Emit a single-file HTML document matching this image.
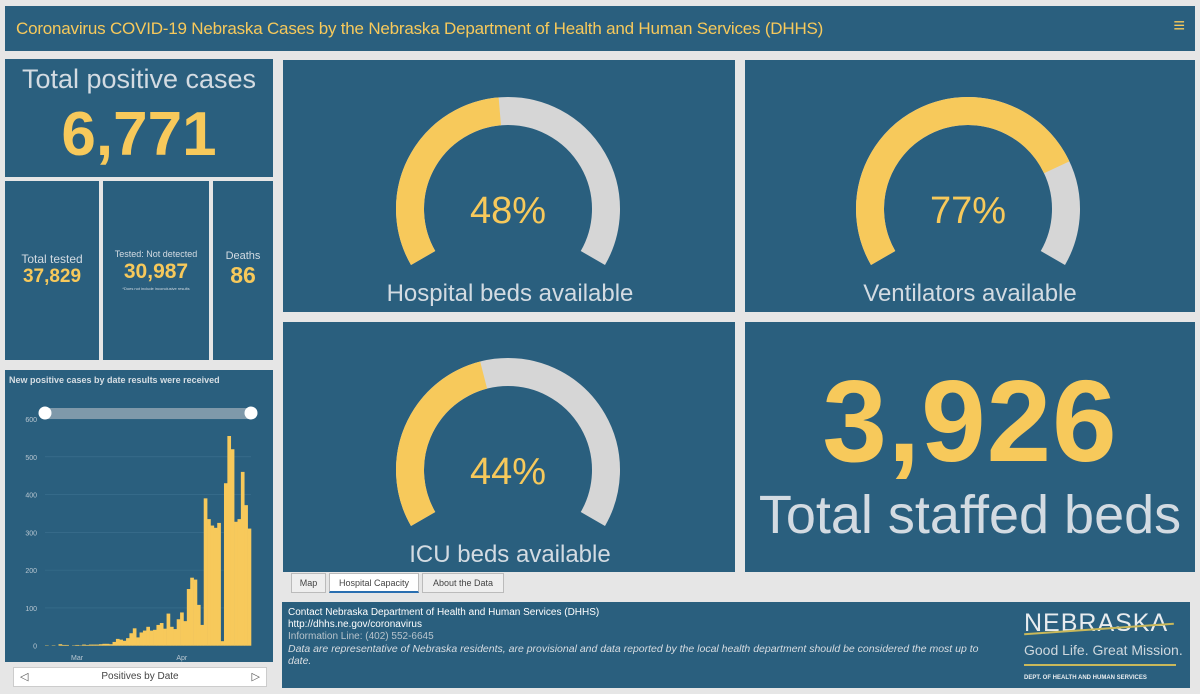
<!DOCTYPE html>
<html><head><meta charset="utf-8">
<style>
*{box-sizing:border-box;margin:0;padding:0}
body{width:1200px;height:694px;background:#e6e6e6;font-family:"Liberation Sans",sans-serif;position:relative;overflow:hidden}
.p{position:absolute;background:#2a5f7e}
.y{color:#f7c95b}
.g{color:#d3dbe2}
.c{text-align:center;position:absolute;left:0;right:0}
</style></head><body>
<div class="p" style="left:5px;top:6px;width:1190px;height:45px">
 <div class="y" style="position:absolute;left:11px;top:13px;font-size:17px;letter-spacing:-0.2px">Coronavirus COVID-19 Nebraska Cases by the Nebraska Department of Health and Human Services (DHHS)</div>
 <div class="y" style="position:absolute;right:10px;top:9px;font-size:20px">≡</div>
</div>

<div class="p" style="left:5px;top:59px;width:268px;height:118px">
 <div class="c g" style="top:5px;font-size:27px">Total positive cases</div>
 <div class="c y" style="top:40px;font-size:62px;font-weight:bold">6,771</div>
</div>
<div class="p" style="left:5px;top:181px;width:94px;height:179px">
 <div class="c g" style="top:71px;font-size:12px">Total tested</div>
 <div class="c y" style="top:85px;font-size:19px;font-weight:bold">37,829</div>
</div>
<div class="p" style="left:103px;top:181px;width:106px;height:179px">
 <div class="c g" style="top:68px;font-size:9px">Tested: Not detected</div>
 <div class="c y" style="top:79px;font-size:21px;font-weight:bold">30,987</div>
 <div class="c g" style="top:105px;font-size:4px">*Does not include inconclusive results</div>
</div>
<div class="p" style="left:213px;top:181px;width:60px;height:179px">
 <div class="c g" style="top:69px;font-size:11px">Deaths</div>
 <div class="c y" style="top:81px;font-size:23px;font-weight:bold">86</div>
</div>

<div class="p" style="left:5px;top:370px;width:268px;height:292px"></div>
<svg id="chart" style="position:absolute;left:0;top:0" width="280" height="694"></svg>
<div style="position:absolute;left:13px;top:667px;width:254px;height:20px;background:#fff;border:1px solid #ccc">
 <div style="position:absolute;left:6px;top:2px;font-size:11px;color:#555">◁</div>
 <div class="c" style="top:3px;font-size:10px;color:#444">Positives by Date</div>
 <div style="position:absolute;right:6px;top:2px;font-size:11px;color:#555">▷</div>
</div>

<div class="p" style="left:283px;top:60px;width:452px;height:252px"></div>
<div class="p" style="left:745px;top:60px;width:450px;height:252px"></div>
<div class="p" style="left:283px;top:322px;width:452px;height:250px"></div>
<div class="p" style="left:745px;top:322px;width:450px;height:250px">
 <div class="c y" style="top:32px;font-size:116px;font-weight:bold;letter-spacing:1px">3,926</div>
 <div class="c g" style="top:162px;font-size:54px;white-space:nowrap">Total staffed beds</div>
</div>
<svg id="gauges" style="position:absolute;left:0;top:0" width="1200" height="694"></svg>

<div style="position:absolute;left:291px;top:573px;width:35px;height:20px;background:#eee;border:1px solid #bbb;font-size:9px;color:#444;text-align:center;line-height:18px">Map</div>
<div style="position:absolute;left:329px;top:573px;width:90px;height:20px;background:#fff;border:1px solid #bbb;border-bottom:2px solid #2a6fb0;font-size:9px;color:#444;text-align:center;line-height:18px">Hospital Capacity</div>
<div style="position:absolute;left:422px;top:573px;width:82px;height:20px;background:#eee;border:1px solid #bbb;font-size:9px;color:#444;text-align:center;line-height:18px">About the Data</div>

<div class="p" style="left:282px;top:602px;width:908px;height:86px;font-size:10px;color:#fff;padding:5px 6px;line-height:12px">
 <div>Contact Nebraska Department of Health and Human Services (DHHS)</div>
 <div>http://dhhs.ne.gov/coronavirus</div>
 <div style="color:#b8c4cc">Information Line: (402) 552-6645</div>
 <div style="font-style:italic;color:#d8dde2;width:715px;font-size:10.5px">Data are representative of Nebraska residents, are provisional and data reported by the local health department should be considered the most up to date.</div>
 <div style="position:absolute;left:742px;top:8px;width:160px;color:#e8ecef">
  <div style="font-size:25px;letter-spacing:1px;line-height:26px">NEBRASKA</div>
  <div style="height:2px;background:#c9b85a;width:150px;margin-top:-8px;transform:rotate(-4deg)"></div>
  <div style="font-size:14px;margin-top:14px;color:#cfd8de">Good Life. Great Mission.</div>
  <div style="height:2px;background:#c9b85a;width:152px;margin-top:8px"></div>
  <div style="font-size:6px;font-weight:bold;margin-top:6px">DEPT. OF HEALTH AND HUMAN SERVICES</div>
 </div>
</div>

<script>
const NS="http://www.w3.org/2000/svg";
function mk(p,t,a){const e=document.createElementNS(NS,t);for(const k in a)e.setAttribute(k,a[k]);p.appendChild(e);return e;}
// chart data
const caseValues=[1,0,1,0,4,2,2,0,1,2,1,3,2,3,3,3,4,5,5,4,10,18,16,13,20,33,46,22,35,40,50,40,42,55,60,45,85,50,44,70,88,65,150,180,175,108,55,390,335,318,312,325,12,430,555,520,328,335,460,372,310];
const yTicks=[0,100,200,300,400,500,600];
const xLabels=["Mar","Apr"];
const xLabelIdx=[9,40];
const svg=document.getElementById('chart');
const x0=45,x1=251,yZero=645.7,yTop=419;
const yS=v=>yZero-(v/600)*(yZero-yTop);
const bw=(x1-x0)/caseValues.length;
const xS=i=>x0+i*bw;
let t=mk(svg,'text',{x:9,y:383,fill:'#d6dee4','font-size':9,'font-weight':'bold'});t.textContent='New positive cases by date results were received';


yTicks.forEach(v=>{
 if(v>0){const l=mk(svg,'line',{x1:x0,x2:x1,y1:yS(v),y2:yS(v),stroke:'#3d7190','stroke-width':0.6});
 
 }
 const tx=mk(svg,'text',{x:37,y:yS(v)+3,fill:'#b9c7d1','font-size':7,'text-anchor':'end'});tx.textContent=v;
 
 
});
caseValues.forEach((v,i)=>{
 const r=mk(svg,'rect',{x:xS(i),y:yS(v),width:bw+0.3,height:yZero-yS(v),fill:'#f7c95b'});
 
 
});
xLabels.forEach((s,k)=>{
 const tx=mk(svg,'text',{x:xS(xLabelIdx[k])+bw/2,y:660,fill:'#b9c7d1','font-size':7,'text-anchor':'middle'});tx.textContent=s;
 
 
});
const sl=mk(svg,'rect',{x:45,y:408,width:206,height:11,fill:'#7f99aa'});


[45,251].forEach(cx=>{const h=mk(svg,'circle',{cx:cx,cy:413,r:6.5,fill:'#fff'});
 
 });

// gauges
const gaugeVals=[48,77,44];
const gaugeLabels=["Hospital beds available","Ventilators available","ICU beds available"];
const gaugeCenters=[[508,209],[968,209],[508,470]];
const gs=document.getElementById('gauges');
const R=98,SW=28,A0=210,SPAN=240;
function pt(c,a){const r=a*Math.PI/180;return [c[0]+R*Math.cos(r),c[1]-R*Math.sin(r)];}
function arc(c,a1,a2){const p1=pt(c,a1),p2=pt(c,a2);const large=(a1-a2)>180?1:0;return `M${p1[0]} ${p1[1]} A${R} ${R} 0 ${large} 1 ${p2[0]} ${p2[1]}`;}
gaugeVals.forEach((v,i)=>{
 const c=gaugeCenters[i];const aE=A0-SPAN*v/100;
 const bg=mk(gs,'path',{d:arc(c,A0,A0-SPAN),stroke:'#d6d6d6','stroke-width':SW,fill:'none'});
 
 
 const fg=mk(gs,'path',{d:arc(c,A0,aE),stroke:'#f7c95b','stroke-width':SW,fill:'none'});
 
 
 const tv=mk(gs,'text',{x:c[0],y:c[1]+14,fill:'#f7c95b','font-size':38,'text-anchor':'middle','font-family':'Liberation Sans, sans-serif'});tv.textContent=v+'%';
 
 
 const tl=mk(gs,'text',{x:c[0]+2,y:c[1]+92,fill:'#d3dbe2','font-size':24,'text-anchor':'middle','font-family':'Liberation Sans, sans-serif'});tl.textContent=gaugeLabels[i];
 
 
});
</script>
</body></html>
